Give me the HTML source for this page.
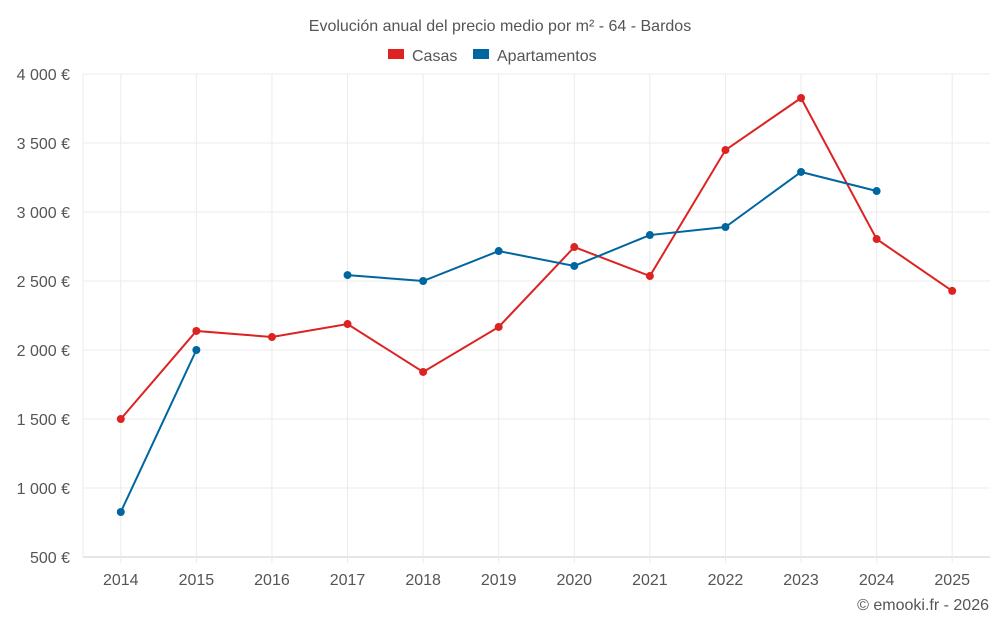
<!DOCTYPE html>
<html><head><meta charset="utf-8">
<style>
body{margin:0;background:#fff;font-family:"Liberation Sans",sans-serif;}
svg text{font-family:"Liberation Sans",sans-serif;}
</style></head>
<body>
<svg id="chart" width="1000" height="625" xmlns="http://www.w3.org/2000/svg">
<text x="500" y="31" text-anchor="middle" font-size="16" fill="#555">Evolución anual del precio medio por m² - 64 - Bardos</text>
<g>
<g><rect x="388" y="49" width="16" height="10" fill="#dd2222"/><text x="412" y="61" font-size="16" fill="#555">Casas</text></g>
<g><rect x="473" y="49" width="16" height="10" fill="#0066a0"/><text x="497" y="61" font-size="16" fill="#555">Apartamentos</text></g>
</g>
<g id="grid"></g>
<g id="axes"></g>
<g id="series"></g>
<text x="989" y="610" text-anchor="end" font-size="16" fill="#555">© emooki.fr - 2026</text>
</svg>
<script>
const years=[2014,2015,2016,2017,2018,2019,2020,2021,2022,2023,2024,2025];
const casas=[1500,2138,2094,2188,1841,2167,2746,2536,3449,3826,2804,2428];
const apartamentos=[826,2000,null,2543,2500,2717,2609,2833,2891,3290,3152,null];
const yTicks=[500,1000,1500,2000,2500,3000,3500,4000];
const yTickLabels=["500 €","1 000 €","1 500 €","2 000 €","2 500 €","3 000 €","3 500 €","4 000 €"];

const NS="http://www.w3.org/2000/svg";
const L=83,R=990,T=74,B=557,yMin=500,yMax=4000;
const band=(R-L)/years.length;
function xs(i){return L+band*(i+0.5);}
function ys(v){return B-(v-yMin)/(yMax-yMin)*(B-T);}
function mk(tag,attrs,parent){const e=document.createElementNS(NS,tag);for(const k in attrs)e.setAttribute(k,attrs[k]);parent.appendChild(e);return e;}
const grid=document.getElementById('grid'),axes=document.getElementById('axes'),series=document.getElementById('series');

yTicks.forEach((t,i)=>{
  const g=mk('line',{x1:L,x2:R,y1:ys(t),y2:ys(t),stroke:i===0?'#ccc':'#ebebeb','stroke-width':1},grid);
  
  
  const tx=mk('text',{x:70,y:ys(t)+6,'text-anchor':'end','font-size':16,fill:'#555'},axes);
  tx.textContent=yTickLabels[i];
  
  
});
const la=mk('line',{x1:L,x2:L,y1:T,y2:B,stroke:'#ebebeb'},grid);


years.forEach((y,i)=>{
  const g=mk('line',{x1:xs(i),x2:xs(i),y1:T,y2:B+6,stroke:'#ebebeb'},grid);
  
  
  const tx=mk('text',{x:xs(i),y:585,'text-anchor':'middle','font-size':16,fill:'#555'},axes);
  tx.textContent=y;
  
  
});

function draw(vals,color,name){
  let segs=[],cur=[];
  vals.forEach((v,i)=>{if(v==null){if(cur.length)segs.push(cur);cur=[];}else cur.push([xs(i),ys(v)]);});
  if(cur.length)segs.push(cur);
  segs.forEach(s=>{
    if(s.length<2)return;
    const p=mk('polyline',{points:s.map(q=>q.join(',')).join(' '),fill:'none',stroke:color,'stroke-width':2},series);
    
    
  });
  vals.forEach((v,i)=>{
    if(v==null)return;
    const c=mk('circle',{cx:xs(i),cy:ys(v),r:4,fill:color},series);
    
    
  });
}
draw(casas,'#dd2222','casas');
draw(apartamentos,'#0066a0','apartamentos');
</script>
</body></html>
